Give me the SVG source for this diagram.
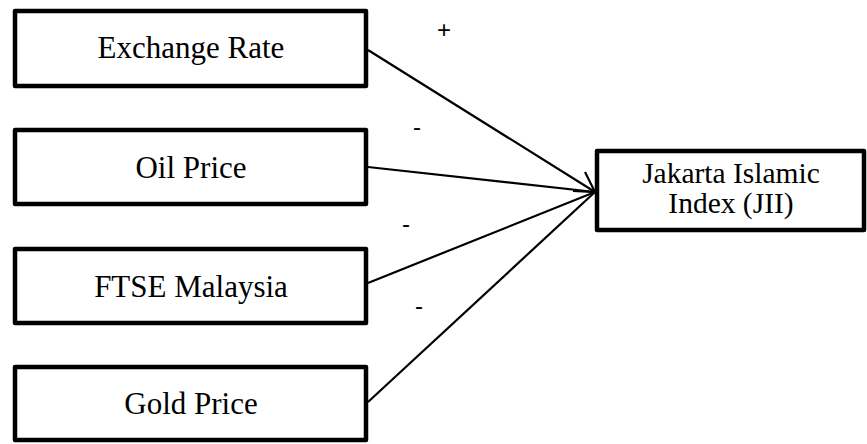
<svg xmlns="http://www.w3.org/2000/svg" width="867" height="444" viewBox="0 0 867 444">
<style>
.box{fill:#fff;stroke:#000;stroke-width:4.5;stroke-linejoin:round}
.lbl{font-family:"Liberation Serif","Times New Roman",serif;font-size:31px;fill:#000;text-anchor:middle}
.jii{font-size:29.5px}
.sign{font-family:"Liberation Sans",Arial,sans-serif;font-size:24px;fill:#000;text-anchor:middle}
.conn{stroke:#000;stroke-width:2.2;fill:none}
</style>
<rect width="867" height="444" fill="#fff"/>
<g id="connectors">
<line class="conn" x1="368" y1="50" x2="595" y2="192"/>
<polyline class="conn" points="585,172 595,192 573,191"/>
<line class="conn" x1="368" y1="167" x2="595" y2="192"/>
<line class="conn" x1="368" y1="283" x2="595" y2="192"/>
<line class="conn" x1="368" y1="402" x2="595" y2="192"/>
<text class="sign" x="444" y="38">+</text>
<text class="sign" x="417" y="135">-</text>
<text class="sign" x="406" y="232">-</text>
<text class="sign" x="419" y="314">-</text>
</g>
<g id="exchange-rate">
<rect class="box" x="15" y="11" width="351" height="75"/>
<text class="lbl" x="191" y="58">Exchange Rate</text>
</g>
<g id="oil-price">
<rect class="box" x="15" y="130" width="351" height="74"/>
<text class="lbl" x="191" y="178">Oil Price</text>
</g>
<g id="ftse-malaysia">
<rect class="box" x="15" y="249" width="351" height="74"/>
<text class="lbl" x="191" y="297">FTSE Malaysia</text>
</g>
<g id="gold-price">
<rect class="box" x="15" y="367" width="351" height="73"/>
<text class="lbl" x="191" y="414">Gold Price</text>
</g>
<g id="jii">
<rect class="box" x="597" y="151" width="267" height="79"/>
<text class="lbl jii" x="731" y="183">Jakarta Islamic</text>
<text class="lbl jii" x="731" y="213">Index (JII)</text>
</g>
</svg>
